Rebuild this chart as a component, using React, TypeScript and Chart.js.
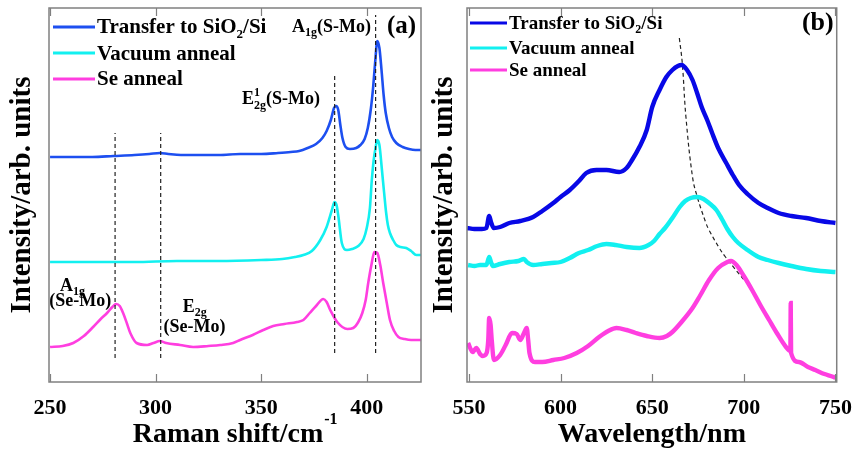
import React, { useEffect, useRef } from "react";
import { Chart, registerables } from "chart.js";

Chart.register(...registerables);

const SERIF = "'Liberation Serif', 'Times New Roman', serif";

// ---------------- Panel (a): Raman spectra ----------------
const ramanTicks = [250, 300, 350, 400];

const ramanTransferX = [250, 260, 270, 280, 290, 297, 302, 306, 312, 320, 330, 340, 350, 358, 364, 368, 372, 376, 379, 381, 383, 384.5, 385.5, 386.5, 387.5, 388.5, 390, 392, 395, 397, 399, 400.5, 402, 403, 404, 405, 406, 407, 408, 409, 410.5, 412, 414, 417, 420, 423, 426];
const ramanTransferY = [225, 225, 225, 226, 227, 228, 229, 228, 227, 227, 227, 228, 228, 229, 230, 231, 234, 238, 244, 251, 262, 274, 276, 272, 257, 244, 235, 233, 234, 237, 243, 254, 274, 294, 320, 341, 334, 312, 287, 269, 254, 245, 239, 235, 233, 232, 232];

const ramanVacuumX = [250, 270, 290, 310, 330, 350, 360, 366, 370, 374, 378, 381, 383.5, 384.7, 385.7, 386.6, 388.2, 390.6, 393, 396, 398.5, 400, 401.5, 402.4, 403.3, 404, 405, 406, 407.2, 408.2, 409.2, 410, 411, 412.5, 414, 416, 418.7, 421, 423.5, 426];
const ramanVacuumY = [120, 120, 120, 121, 121, 122, 123, 125, 127, 131, 142, 155, 172, 180, 177, 165, 139, 132, 133, 136, 143, 154, 174, 202, 222, 232, 242, 237, 212, 190, 169, 157, 149, 142, 137, 135, 134, 131, 127, 127];

const ramanSeX = [250, 256, 261, 266, 270.4, 274, 277, 279.5, 281.3, 283, 284.6, 286.5, 288, 291, 296, 299, 302, 305, 311.6, 317.8, 325, 330.6, 336.7, 340, 346, 351, 355.7, 361, 367, 370, 373, 376, 379.4, 381, 382.7, 386, 390.8, 393.6, 396, 397.9, 399.5, 400.7, 402.2, 403.6, 405, 406.4, 407.8, 409.5, 411, 413, 415, 418, 421, 424, 426];
const ramanSeY = [35, 36, 39, 46, 55, 63, 69, 75, 78, 76, 69, 58, 49, 39, 37, 39, 41, 39, 37, 35, 36, 37, 39, 42, 47, 52, 56, 58, 60, 62, 69, 76, 83, 80, 72, 60, 53, 54, 60, 69, 82, 99, 117, 130, 129, 117, 99, 79, 62, 51, 45, 43, 42, 42, 42];

const ramanModeX = [280.8, 302.4, 384.8, 404.2];
const ramanModeLow = [24, 24, 29, 29];
const ramanModeHigh = [249, 249, 309, 367];

// ---------------- Panel (b): PL spectra ----------------
const plTicks = [550, 600, 650, 700, 750];

const plTransferX = [549, 553, 557, 559.5, 561, 562, 563.5, 567, 572, 578, 585, 590, 596, 600, 605, 610, 614, 619.6, 625, 632, 636, 639, 643, 647, 650, 654, 657.7, 661, 664, 666, 669, 672, 674.5, 677, 680, 682.7, 686, 690.4, 694, 697.4, 702, 708, 713, 719, 726, 734, 742, 750];
const plTransferY = [154, 153, 153, 154, 166, 160, 154, 155, 159, 161, 165, 171, 179, 185, 192, 201, 209, 212, 212, 210, 214, 222, 235, 252, 275, 292, 305, 312, 316, 317, 312, 302, 289, 275, 262, 249, 234, 219, 207, 197, 188, 179, 174, 169, 166, 164, 161, 159];

const plVacuumX = [549.5, 553, 556, 559.5, 561, 562, 563, 567, 572, 577, 580, 581.5, 585, 590, 595, 600, 605, 610, 615, 620, 625, 630, 636, 643, 648, 651, 654, 657, 661, 665, 668, 671, 674.6, 678, 681, 685, 688, 691, 694, 697, 702, 708, 713, 719, 726, 734, 742, 750];
const plVacuumY = [117, 116, 117, 117, 125, 120, 116, 118, 120, 121, 123, 120, 117, 118, 119, 120, 124, 129, 132, 136, 138, 137, 135, 134, 137, 141, 148, 154, 164, 175, 181, 184, 185, 183, 179, 172, 163, 153, 145, 139, 132, 125, 122, 119, 116, 113, 111, 110];

const plSeX = [549.5, 552, 554, 556, 557.6, 559.6, 560.5, 561, 561.8, 562.4, 563.6, 567, 570, 573.5, 576, 578, 580, 581.5, 582.3, 583, 586, 590, 596, 602, 608.8, 615, 621, 626, 630.5, 636, 641, 647, 654, 658, 661, 666, 672, 676, 681, 686, 691, 693, 696, 700, 704.5, 709, 713.8, 718, 723, 725.4, 725.6, 725.8, 730, 735, 739, 744, 749, 750];
const plSeY = [39, 30, 34, 28, 26, 29, 42, 64, 57, 42, 22, 27, 37, 49, 48, 42, 49, 54, 42, 29, 20, 20, 22, 24, 29, 36, 45, 51, 54, 52, 49, 46, 44, 46, 50, 60, 74, 86, 102, 114, 120, 121, 117, 106, 92, 77, 62, 49, 35, 31, 79, 29, 20, 15, 12, 8, 5, 4];

const plShiftX = [664.8, 666.4, 668.4, 672, 674.6, 679.3, 681, 686.6, 690, 701];
const plShiftY = [344, 319, 265, 205, 185, 159, 152, 134, 125, 100];

// ---------------- Text ----------------
const seriesNames = ["Transfer to SiO2/Si", "Vacuum anneal", "Se anneal"];
const ramanTitle = "Raman shift/cm";
const ramanTitleSup = "-1";
const plTitle = "Wavelength/nm";
const yTitle = "Intensity/arb. units";

const COLORS_A = ["#1d4ff0", "#12f0f0", "#ff3ee0"];
const COLORS_B = ["#0808e6", "#12f0f0", "#ff3ee0"];

type Part = { t: string; s: number; dy?: number; stack?: boolean };
type Note = { x: number; y: number; parts: Part[] };
type LegendRow = { color: string; lineY: number; textY: number; parts: Part[] };

function nameParts(name: string, size: number): Part[] {
  const i = name.indexOf("2/");
  if (i < 0) return [{ t: name, s: size }];
  return [
    { t: name.slice(0, i), s: size },
    { t: "2", s: Math.round(size * 0.62), dy: Math.round(size * 0.22) },
    { t: name.slice(i + 1), s: size },
  ];
}

function drawParts(ctx: CanvasRenderingContext2D, parts: Part[], x: number, y: number) {
  let cx = x;
  let start = x;
  for (const p of parts) {
    ctx.font = `bold ${p.s}px ${SERIF}`;
    const w = ctx.measureText(p.t).width;
    if (p.stack) {
      ctx.fillText(p.t, start, y + (p.dy || 0));
      cx = Math.max(cx, start + w);
    } else {
      ctx.fillText(p.t, cx, y + (p.dy || 0));
      start = cx;
      cx += w;
    }
  }
}

function makeDecor(opts: {
  ticks: number[];
  legend: LegendRow[];
  legendX0: number;
  legendX1: number;
  textX: number;
  notes: Note[];
  tag: Note;
  titleSup?: { main: string; pad: string; sup: string };
}) {
  return {
    id: "decor",
    afterDatasetsDraw(chart: any) {
      const ctx: CanvasRenderingContext2D = chart.ctx;
      const { left, right, top, bottom } = chart.chartArea;
      const xs = chart.scales.x;
      const ys = chart.scales.y;
      ctx.save();
      // frame
      ctx.strokeStyle = "#808080";
      ctx.lineWidth = 1.5;
      ctx.strokeRect(left, top, right - left, bottom - top);
      // inward ticks
      ctx.lineWidth = 1.2;
      ctx.beginPath();
      for (const v of opts.ticks) {
        const px = Math.round(xs.getPixelForValue(v)) + 0.5;
        ctx.moveTo(px, bottom);
        ctx.lineTo(px, bottom - 8);
        ctx.moveTo(px, top);
        ctx.lineTo(px, top + 8);
      }
      ctx.stroke();
      // legend
      ctx.fillStyle = "#000";
      ctx.textBaseline = "alphabetic";
      ctx.textAlign = "left";
      for (const row of opts.legend) {
        ctx.strokeStyle = row.color;
        ctx.lineWidth = 3;
        ctx.beginPath();
        ctx.moveTo(left + opts.legendX0, top + row.lineY);
        ctx.lineTo(left + opts.legendX1, top + row.lineY);
        ctx.stroke();
        drawParts(ctx, row.parts, left + opts.textX, top + row.textY);
      }
      // notes
      for (const n of opts.notes) {
        drawParts(ctx, n.parts, xs.getPixelForValue(n.x), ys.getPixelForValue(n.y));
      }
      drawParts(ctx, opts.tag.parts, xs.getPixelForValue(opts.tag.x), ys.getPixelForValue(opts.tag.y));
      // superscript of axis title
      if (opts.titleSup) {
        const f = xs.options.title.font;
        ctx.font = `bold ${f.size}px ${SERIF}`;
        const full = ctx.measureText(opts.titleSup.main + opts.titleSup.pad).width;
        const main = ctx.measureText(opts.titleSup.main).width;
        const cx = (xs.left + xs.right) / 2;
        const sx = cx - full / 2 + main + 1;
        ctx.font = `bold 16px ${SERIF}`;
        ctx.fillText(opts.titleSup.sup, sx, xs.bottom - 28);
      }
      ctx.restore();
    },
  };
}

function pts(xs: number[], ys: number[]) {
  return xs.map((x, i) => ({ x, y: ys[i] }));
}

function curve(label: string, xs: number[], ys: number[], color: string, width: number) {
  return {
    label,
    data: pts(xs, ys),
    borderColor: color,
    backgroundColor: color,
    borderWidth: width,
    pointRadius: 0,
    cubicInterpolationMode: "monotone" as const,
    fill: false,
  };
}

function dashed(xs: number[], ys: number[], width = 1.2, tension = 0) {
  return {
    label: "",
    data: pts(xs, ys),
    borderColor: "#222",
    borderWidth: width,
    borderDash: [4, 3],
    pointRadius: 0,
    tension,
    fill: false,
  };
}

function baseOptions(p: {
  min: number;
  max: number;
  ticks: number[];
  title: string;
  yWidth: number;
  padRight: number;
}) {
  return {
    responsive: false,
    animation: false as const,
    layout: { padding: { left: 0, right: p.padRight, top: 8, bottom: 0 } },
    plugins: { legend: { display: false }, tooltip: { enabled: false } },
    elements: { point: { radius: 0 } },
    scales: {
      x: {
        type: "linear" as const,
        min: p.min,
        max: p.max,
        afterBuildTicks: (s: any) => {
          s.ticks = p.ticks.map((v) => ({ value: v }));
        },
        afterFit: (s: any) => {
          s.height = 70;
        },
        grid: { display: false },
        border: { display: false },
        ticks: {
          color: "#000",
          padding: 5,
          maxRotation: 0,
          autoSkip: false,
          font: { family: SERIF, size: 22, weight: "bold" as const },
        },
        title: {
          display: true,
          text: p.title,
          color: "#000",
          padding: { top: 0, bottom: 0 },
          font: { family: SERIF, size: 28, weight: "bold" as const },
        },
      },
      y: {
        type: "linear" as const,
        min: 0,
        max: 374,
        afterFit: (s: any) => {
          s.width = p.yWidth;
        },
        grid: { display: false },
        border: { display: false },
        ticks: { display: false },
        title: {
          display: true,
          text: yTitle,
          color: "#000",
          padding: { top: 5, bottom: 0 },
          font: { family: SERIF, size: 29, weight: "bold" as const },
        },
      },
    },
  };
}

export default function App() {
  const refA = useRef<HTMLCanvasElement>(null);
  const refB = useRef<HTMLCanvasElement>(null);

  useEffect(() => {
    const legendA: LegendRow[] = seriesNames.map((n, i) => ({
      color: COLORS_A[i],
      lineY: [19, 45, 71][i],
      textY: [25, 52, 77][i],
      parts: nameParts(n, 21),
    }));
    const legendB: LegendRow[] = seriesNames.map((n, i) => ({
      color: COLORS_B[i],
      lineY: [15, 40, 62][i],
      textY: [21, 46, 68][i],
      parts: nameParts(n, 19),
    }));

    const chartA = new Chart(refA.current as HTMLCanvasElement, {
      type: "line",
      data: {
        datasets: [
          ...ramanModeX.map((x, i) => dashed([x, x], [ramanModeLow[i], ramanModeHigh[i]])),
          curve(seriesNames[0], ramanTransferX, ramanTransferY, COLORS_A[0], 2.6),
          curve(seriesNames[1], ramanVacuumX, ramanVacuumY, COLORS_A[1], 2.6),
          curve(seriesNames[2], ramanSeX, ramanSeY, COLORS_A[2], 2.6),
        ] as any,
      },
      options: baseOptions({
        min: 249.5,
        max: 425.7,
        ticks: ramanTicks,
        title: ramanTitle + "  ",
        yWidth: 49,
        padRight: 9,
      }) as any,
      plugins: [
        makeDecor({
          ticks: ramanTicks,
          legend: legendA,
          legendX0: 4,
          legendX1: 46,
          textX: 48,
          notes: [
            { x: 364.6, y: 350, parts: [{ t: "A", s: 18 }, { t: "1g", s: 12, dy: 4 }, { t: "(S-Mo)", s: 18 }] },
            {
              x: 340.9,
              y: 278,
              parts: [
                { t: "E", s: 18 },
                { t: "1", s: 12, dy: -8 },
                { t: "2g", s: 12, dy: 5, stack: true },
                { t: "(S-Mo)", s: 18 },
              ],
            },
            { x: 254.7, y: 91, parts: [{ t: "A", s: 18 }, { t: "1g", s: 12, dy: 4 }] },
            { x: 249.6, y: 76, parts: [{ t: "(Se-Mo)", s: 18 }] },
            { x: 312.9, y: 70, parts: [{ t: "E", s: 18 }, { t: "2g", s: 12, dy: 4 }] },
            { x: 303.7, y: 50, parts: [{ t: "(Se-Mo)", s: 18 }] },
          ],
          tag: { x: 409.6, y: 349, parts: [{ t: "(a)", s: 25 }] },
          titleSup: { main: ramanTitle, pad: "  ", sup: ramanTitleSup },
        }),
      ],
    });

    const chartB = new Chart(refB.current as HTMLCanvasElement, {
      type: "line",
      data: {
        datasets: [
          curve(seriesNames[0], plTransferX, plTransferY, COLORS_B[0], 4.4),
          curve(seriesNames[1], plVacuumX, plVacuumY, COLORS_B[1], 4.4),
          curve(seriesNames[2], plSeX, plSeY, COLORS_B[2], 4.4),
          dashed(plShiftX, plShiftY, 1.2, 0.4),
        ] as any,
      },
      options: baseOptions({
        min: 548.9,
        max: 750.7,
        ticks: plTicks,
        title: plTitle,
        yWidth: 45,
        padRight: 19,
      }) as any,
      plugins: [
        makeDecor({
          ticks: plTicks,
          legend: legendB,
          legendX0: 3,
          legendX1: 40,
          textX: 42,
          notes: [],
          tag: { x: 731.7, y: 352, parts: [{ t: "(b)", s: 26 }] },
        }),
      ],
    });

    return () => {
      chartA.destroy();
      chartB.destroy();
    };
  }, []);

  return (
    <div style={{ position: "absolute", left: 0, top: 0, width: 857, height: 452, background: "#fff" }}>
      <canvas ref={refA} width={430} height={452} style={{ position: "absolute", left: 0, top: 0 }} />
      <canvas ref={refB} width={435} height={452} style={{ position: "absolute", left: 422, top: 0 }} />
    </div>
  );
}
